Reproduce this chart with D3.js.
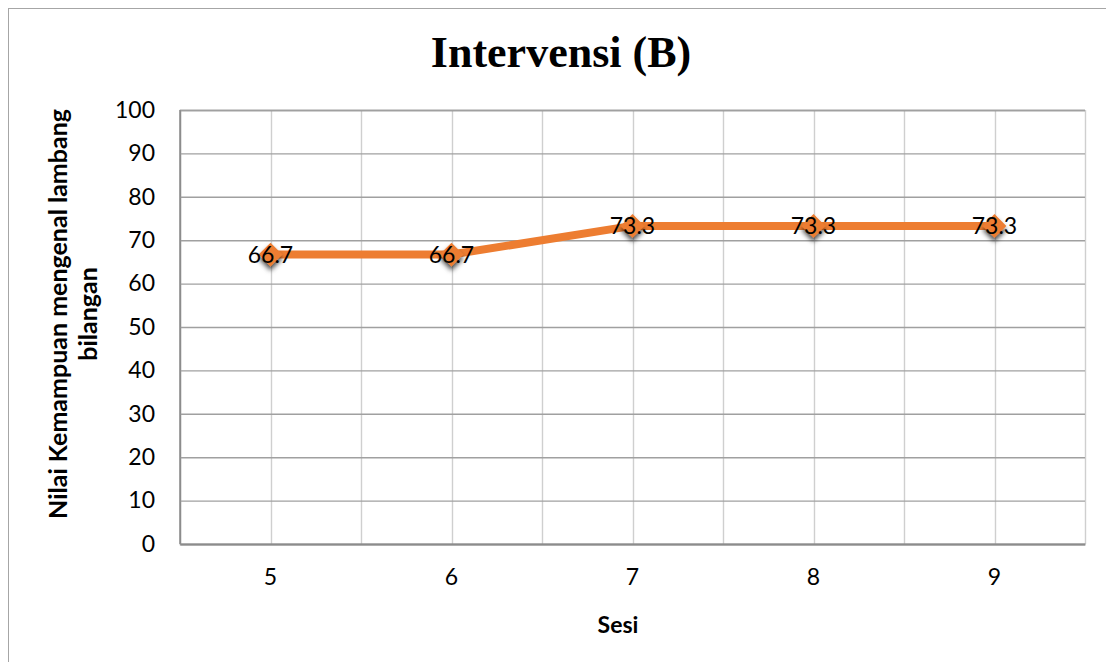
<!DOCTYPE html>
<html>
<head>
<meta charset="utf-8">
<script src="https://cdn.jsdelivr.net/npm/d3@7"></script>
<style>
  html, body { margin: 0; padding: 0; background: #fff; }
  svg { display: block; }
</style>
</head>
<body>
<svg id="chart" width="1106" height="662"></svg>
<script>
// Session numbers and scores for the intervention phase
const sessions = ["5", "6", "7", "8", "9"];
const scores = [66.7, 66.7, 73.3, 73.3, 73.3];
const yTicks = [0, 10, 20, 30, 40, 50, 60, 70, 80, 90, 100];

const titleText = "Intervensi (B)";
const xTitle = "Sesi";
const yTitleLines = ["Nilai  Kemampuan mengenal lambang", "bilangan"];

const W = 1106, H = 662;
const plot = { left: 180, right: 1085, top: 110, bottom: 544 };
const sansFont = "Lato, 'Open Sans', sans-serif";

const svg = d3.select("#chart");

// chart frame
svg.append("rect")
  .attr("x", 8.5).attr("y", 8.5)
  .attr("width", W).attr("height", H)
  .attr("fill", "#fff").attr("stroke", "#a6a6a6").attr("stroke-width", 1);

const x = d3.scaleBand().domain(sessions).range([plot.left, plot.right]).padding(0);
const y = d3.scaleLinear().domain([0, 100]).range([plot.bottom, plot.top]);

const defs = svg.append("defs");
const shadow = defs.append("filter").attr("id", "markerShadow")
  .attr("x", "-60%").attr("y", "-60%").attr("width", "220%").attr("height", "220%");
shadow.append("feDropShadow")
  .attr("dx", 0).attr("dy", 4).attr("stdDeviation", 2.6)
  .attr("flood-color", "#000").attr("flood-opacity", 0.7);

// vertical gridlines: category centres and category boundaries
const vPositions = [];
sessions.forEach(s => { vPositions.push(x(s)); vPositions.push(x(s) + x.bandwidth() / 2); });
vPositions.push(plot.right);
svg.append("g").selectAll("line")
  .data(vPositions.filter(v => v > plot.left))
  .join("line")
  .attr("x1", d => Math.round(d) + 0.5).attr("x2", d => Math.round(d) + 0.5)
  .attr("y1", plot.top).attr("y2", plot.bottom)
  .attr("stroke", "#cfcfcf").attr("stroke-width", 1.4);

// horizontal gridlines and y labels
const yAxis = d3.axisLeft(y).tickValues(yTicks).tickSize(-(plot.right - plot.left)).tickPadding(25);
const gy = svg.append("g").attr("transform", `translate(${plot.left},0)`).call(yAxis);
gy.select(".domain").attr("stroke", "#8c8c8c").attr("stroke-width", 1.5);
gy.selectAll(".tick line").attr("stroke", "#a0a0a0").attr("stroke-width", 1.4);
gy.selectAll(".tick text")
  .attr("font-family", sansFont).attr("font-size", 23).attr("fill", "#000");

// x axis with category labels
const xAxis = d3.axisBottom(x).tickSize(0).tickPadding(25);
const gx = svg.append("g").attr("transform", `translate(0,${plot.bottom})`).call(xAxis);
gx.select(".domain").attr("stroke", "#8c8c8c").attr("stroke-width", 2);
gx.selectAll(".tick text")
  .attr("font-family", sansFont).attr("font-size", 23).attr("fill", "#000");

// left axis line on top of gridlines
svg.append("line")
  .attr("x1", plot.left).attr("x2", plot.left)
  .attr("y1", plot.top).attr("y2", plot.bottom)
  .attr("stroke", "#8c8c8c").attr("stroke-width", 1.5);

// series line
const pts = sessions.map((s, i) => ({ s, v: scores[i] }));
const line = d3.line()
  .x(d => x(d.s) + x.bandwidth() / 2)
  .y(d => y(d.v));
svg.append("path")
  .datum(pts)
  .attr("d", line)
  .attr("fill", "none")
  .attr("stroke", "#ed7d31")
  .attr("stroke-width", 8)
  .attr("stroke-linejoin", "round");

// diamond markers
const diamond = d3.symbol().type(d3.symbolDiamond2).size(360);
svg.append("g").selectAll("path")
  .data(pts)
  .join("path")
  .attr("transform", d => `translate(${x(d.s) + x.bandwidth() / 2},${y(d.v)})`)
  .attr("d", diamond)
  .attr("fill", "#ed7d31")
  .attr("filter", "url(#markerShadow)");

// value labels centred on the points
svg.append("g").selectAll("text")
  .data(pts)
  .join("text")
  .attr("x", d => x(d.s) + x.bandwidth() / 2)
  .attr("y", d => y(d.v))
  .attr("dy", "0.36em")
  .attr("text-anchor", "middle")
  .attr("font-family", sansFont).attr("font-size", 23).attr("fill", "#000")
  .text(d => d.v.toFixed(1));

// title
svg.append("text")
  .attr("x", 561).attr("y", 67)
  .attr("text-anchor", "middle")
  .attr("font-family", "'Liberation Serif', 'Times New Roman', serif")
  .attr("font-weight", "bold").attr("font-size", 44)
  .text(titleText);

// x axis title
svg.append("text")
  .attr("x", 618).attr("y", 633)
  .attr("text-anchor", "middle")
  .attr("font-family", sansFont).attr("font-weight", "bold").attr("font-size", 23)
  .text(xTitle);

// y axis title, two lines
const yt = svg.append("text")
  .attr("transform", `translate(0,314) rotate(-90)`)
  .attr("text-anchor", "middle")
  .attr("font-family", sansFont).attr("font-weight", "bold").attr("font-size", 25);
yTitleLines.forEach((t, i) => {
  yt.append("tspan").attr("x", 0).attr("y", 67 + i * 30).text(t);
});
</script>
</body>
</html>
